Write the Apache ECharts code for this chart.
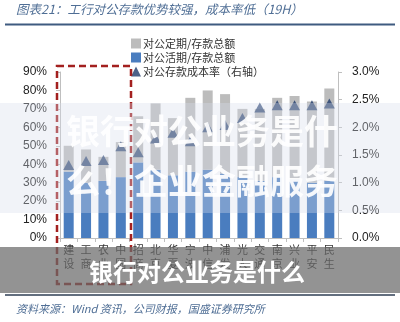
<!DOCTYPE html>
<html><head><meta charset="utf-8">
<script src="https://cdn.jsdelivr.net/npm/echarts@6/dist/echarts.min.js"></script>
<style>html,body{margin:0;padding:0;background:#fff}#c{width:400px;height:322px}</style>
</head><body><div id="c"></div>
<script>
var categories = ['建设','工商','农业','中国','招商','北京','华夏','宁波','中信','浦发','光大','交通','南京','兴业','平安','民生'];
var demandShare = [36, 30, 31, 33, 41, 37, 34, 36, 37, 35, 33, 31, 33, 32, 30, 31];
var totalShare  = [50, 48, 44, 52, 66, 73, 65, 76, 80, 78, 70, 70, 76, 77, 74, 81];
var costRate    = [1.32, 1.39, 1.41, 1.66, 1.55, 1.80, 1.90, 1.75, 2.00, 2.04, 2.17, 2.36, 2.40, 2.40, 2.40, 2.43];
var leftTicks = [0, 10, 20, 30, 40, 50, 60, 70, 80, 90];
var rightTicks = [0, 0.5, 1.0, 1.5, 2.0, 2.5, 3.0];
var timeShare = totalShare.map(function(t, i){ return +(t - demandShare[i]).toFixed(1); });

var chart = echarts.init(document.getElementById('c'));
var cjk = '"Noto Sans CJK SC","Noto Sans",sans-serif';
chart.setOption({
  animation: false,
  backgroundColor: '#ffffff',
  grid: {left: 60, right: 62, top: 72, bottom: 84},
  legend: {
    orient: 'vertical', left: 126, top: 33, itemGap: 3, itemWidth: 10, itemHeight: 10,
    textStyle: {fontSize: 11, color: '#333', fontFamily: cjk, padding: [0,0,0,-3]},
    data: [
      {name: '对公定期/存款总额', icon: 'rect'},
      {name: '对公活期/存款总额', icon: 'rect'},
      {name: '对公存款成本率（右轴）', icon: 'triangle'}
    ]
  },
  xAxis: {
    type: 'category', data: categories,
    axisLine: {lineStyle: {color: '#bfbfbf'}},
    axisTick: {show: true, lineStyle: {color: '#bfbfbf'}, length: 4},
    axisLabel: {
      interval: 0, margin: 5, fontSize: 11, lineHeight: 14, color: '#333', fontFamily: cjk,
      formatter: function(v){ return v.split('').join('\n'); }
    }
  },
  yAxis: [
    {type: 'value', min: leftTicks[0], max: leftTicks[leftTicks.length-1], interval: 10,
     axisLine: {show: true, lineStyle: {color: '#bfbfbf'}},
     axisTick: {show: true, lineStyle: {color: '#bfbfbf'}, length: 4},
     splitLine: {show: false},
     axisLabel: {formatter: '{value}%', fontSize: 12, color: '#222', fontFamily: '"Liberation Sans",Arial,sans-serif', margin: 13}},
    {type: 'value', min: rightTicks[0], max: rightTicks[rightTicks.length-1], interval: 0.5,
     axisLine: {show: true, lineStyle: {color: '#bfbfbf'}},
     axisTick: {show: true, lineStyle: {color: '#bfbfbf'}, length: 4, inside: false},
     splitLine: {show: false},
     axisLabel: {formatter: function(v){ return v.toFixed(1) + '%'; }, fontSize: 12, color: '#222', fontFamily: '"Liberation Sans",Arial,sans-serif', margin: 14}}
  ],
  series: [
    {name: '对公活期/存款总额', type: 'bar', stack: 's', barWidth: 10, data: demandShare,
     itemStyle: {color: '#4a7dbf'}, z: 2},
    {name: '对公定期/存款总额', type: 'bar', stack: 's', barWidth: 10, data: timeShare,
     itemStyle: {color: '#bcbcbc'}, z: 2},
    {name: '对公存款成本率（右轴）', type: 'scatter', yAxisIndex: 1, data: costRate,
     symbol: 'triangle', symbolSize: [11, 10], itemStyle: {color: '#1f3b6b'}, z: 3}
  ],
  graphic: [
    {type: 'text', left: 16, top: 3, z: 10, style: {text: '图表21：工行对公存款优势较强，成本率低（19H）', fontSize: 12.5, fontStyle: 'italic', fill: '#4f6e95', fontFamily: cjk}},
    {type: 'line', z: 10, shape: {x1: 5, y1: 24.5, x2: 395, y2: 24.5}, style: {stroke: '#3f5b80', lineWidth: 2}},
    {type: 'rect', z: 5, shape: {x: 57, y: 66, width: 74, height: 218}, style: {fill: 'none', stroke: '#a3201f', lineWidth: 2.5, lineDash: [7, 4]}},
    {type: 'rect', z: 6, shape: {x: 0, y: 103, width: 400, height: 110}, style: {fill: 'rgba(215,220,235,0.35)'}},
    {type: 'text', z: 7, left: 66, top: 114, style: {text: '银行对公业务是什', fontSize: 34, fontWeight: 'bold', fill: 'rgba(255,255,255,0.92)', fontFamily: cjk, shadowBlur: 2, shadowColor: 'rgba(0,0,0,0.25)'}},
    {type: 'text', z: 7, left: 66, top: 164, style: {text: '么！企业金融服务', fontSize: 34, fontWeight: 'bold', fill: 'rgba(255,255,255,0.92)', fontFamily: cjk, shadowBlur: 2, shadowColor: 'rgba(0,0,0,0.25)'}},
    {type: 'rect', z: 8, shape: {x: 0, y: 247, width: 400, height: 46}, style: {fill: 'rgba(105,105,105,0.72)'}},
    {type: 'text', z: 9, x: 197, y: 272, style: {text: '银行对公业务是什么', fontSize: 24, fontWeight: 'bold', fill: '#ffffff', fontFamily: cjk, textAlign: 'center', textVerticalAlign: 'middle'}},
    {type: 'line', z: 10, shape: {x1: 5, y1: 295, x2: 395, y2: 295}, style: {stroke: '#2f3f55', lineWidth: 1.5}},
    {type: 'text', left: 16, top: 303, z: 10, style: {text: '资料来源：Wind 资讯，公司财报，国盛证券研究所', fontSize: 11, fontStyle: 'italic', fill: '#4f6e95', fontFamily: cjk}}
  ]
});
</script></body></html>
